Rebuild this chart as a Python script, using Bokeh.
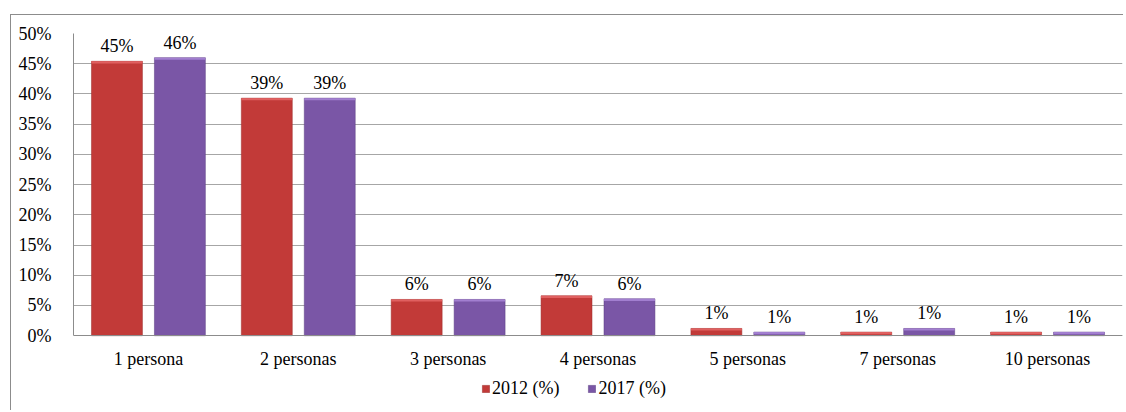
from bokeh.plotting import figure
from bokeh.models import ColumnDataSource, FactorRange, Range1d, Legend, LegendItem, PrintfTickFormatter, FixedTicker, LabelSet
from bokeh.transform import dodge
from bokeh.embed import file_html
from bokeh.resources import INLINE

categories = ["1 persona", "2 personas", "3 personas", "4 personas", "5 personas", "7 personas", "10 personas"]
v2012 = [45.4, 39.3, 6.0, 6.6, 1.2, 0.6, 0.6]
v2017 = [46.0, 39.3, 6.0, 6.1, 0.6, 1.2, 0.6]
lab2012 = ["45%", "39%", "6%", "7%", "1%", "1%", "1%"]
lab2017 = ["46%", "39%", "6%", "6%", "1%", "1%", "1%"]
series = ["2012 (%)", "2017 (%)"]

FONT = "'Liberation Serif', serif"
FS = "18px"
RED = "#C23A38"
RED_TOP = "#E06060"
PUR = "#7A56A6"
PUR_TOP = "#A27FD0"

src = ColumnDataSource(dict(
    cat=categories, v12=v2012, v17=v2017, l12=lab2012, l17=lab2017,
    v12c=[v - 0.35 for v in v2012], v17c=[v - 0.35 for v in v2017],
))

p = figure(width=1113, height=396, x_range=FactorRange(*categories), y_range=Range1d(-12.54, 50),
           output_backend="svg", toolbar_location=None,
           min_border_left=62, min_border_right=2, min_border_top=18, min_border_bottom=0,
           styles={"border-left": "1px solid #8c8c8c", "border-top": "1px solid #8c8c8c",
                   "margin-left": "10px", "margin-top": "14px"})
p.outline_line_color = None
p.background_fill_color = "white"

W = 0.34
r12 = p.vbar(x=dodge("cat", -0.21, range=p.x_range), top="v12", width=W, source=src,
             fill_color=RED, line_color="#9a2a28", line_width=0.5)
p.vbar(x=dodge("cat", -0.21, range=p.x_range), top="v12", bottom="v12c", width=W, source=src,
       fill_color=RED_TOP, line_color=None)
r17 = p.vbar(x=dodge("cat", 0.21, range=p.x_range), top="v17", width=W, source=src,
             fill_color=PUR, line_color="#5a3c80", line_width=0.5)
p.vbar(x=dodge("cat", 0.21, range=p.x_range), top="v17", bottom="v17c", width=W, source=src,
       fill_color=PUR_TOP, line_color=None)

for xo, col, lab in [(-0.21, "v12", "l12"), (0.21, "v17", "l17")]:
    ls = LabelSet(x=dodge("cat", xo, range=p.x_range), y=col, text=lab, source=src,
                  text_align="center", text_baseline="bottom", y_offset=5,
                  text_font=FONT, text_font_size=FS, text_color="#000000")
    p.add_layout(ls)

p.yaxis.ticker = FixedTicker(ticks=[0, 5, 10, 15, 20, 25, 30, 35, 40, 45, 50])
p.yaxis.bounds = (0, 50)
p.yaxis.formatter = PrintfTickFormatter(format="%d%%")
p.yaxis.major_label_text_font = FONT
p.yaxis.major_label_text_font_size = FS
p.yaxis.major_label_text_color = "#000000"
p.yaxis.axis_line_color = "#8c8c8c"
p.yaxis.major_tick_line_color = None
p.yaxis.minor_tick_line_color = None
p.yaxis.major_label_standoff = 16

p.xaxis.fixed_location = 0
p.xaxis.major_label_text_font = FONT
p.xaxis.major_label_text_font_size = FS
p.xaxis.major_label_text_color = "#000000"
p.xaxis.axis_line_color = "#8c8c8c"
p.xaxis.major_tick_line_color = None
p.xaxis.major_label_standoff = 7

p.xgrid.grid_line_color = None
p.ygrid.grid_line_color = "#a6a6a6"
p.ygrid.grid_line_width = 1

legend = Legend(items=[LegendItem(label=series[0], renderers=[r12]),
                       LegendItem(label=series[1], renderers=[r17])],
                orientation="horizontal", location=(408, 12),
                label_text_font=FONT, label_text_font_size=FS, label_text_color="#000000",
                glyph_width=9, glyph_height=9, spacing=28, label_standoff=2,
                border_line_color=None, background_fill_alpha=0, padding=0, margin=0)
p.add_layout(legend)

open("out.html", "w").write(file_html(p, INLINE))
